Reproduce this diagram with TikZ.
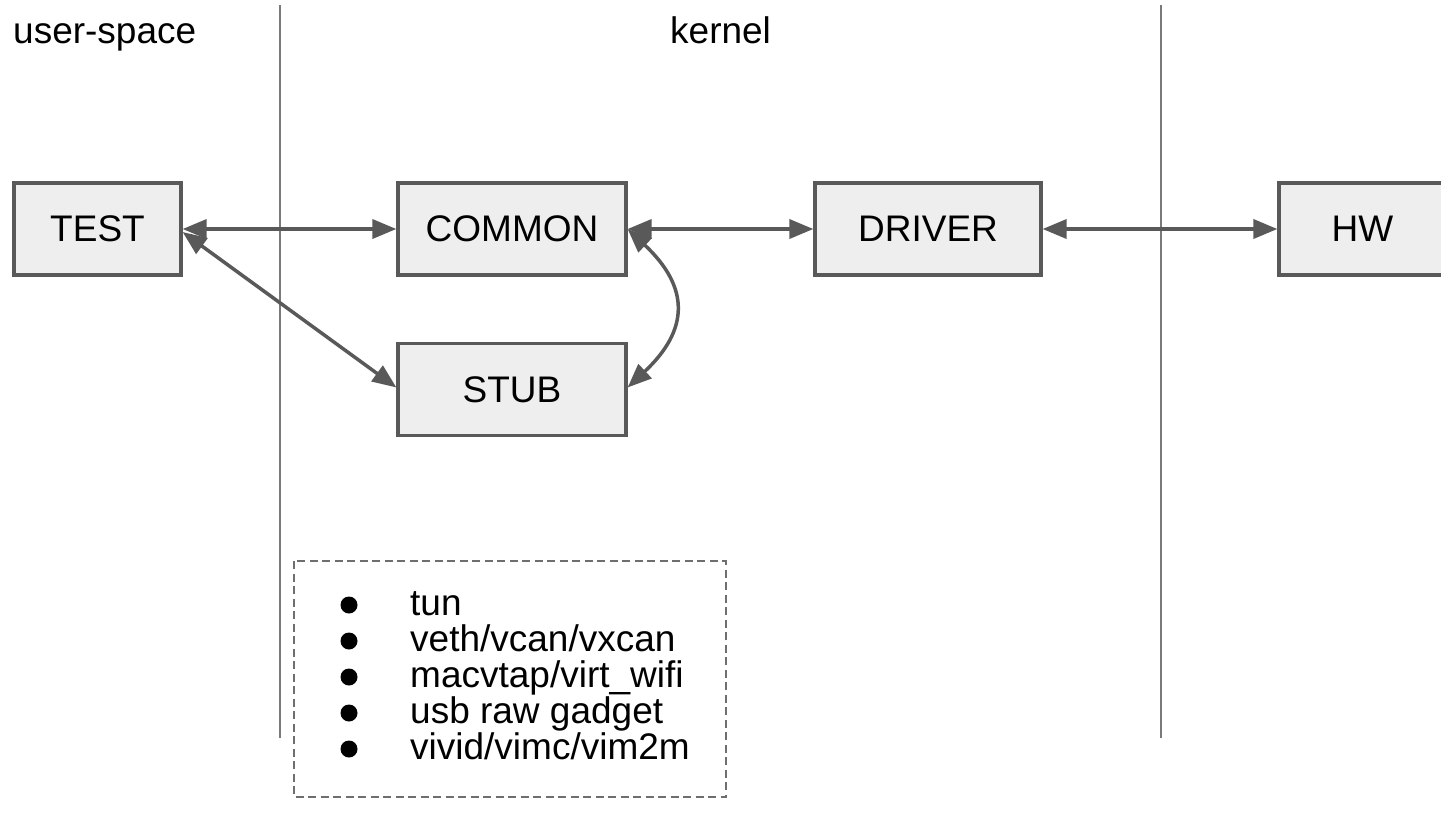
\documentclass[tikz,border=0pt]{standalone}
\usepackage{fontspec}
\setmainfont{Liberation Sans}
\usetikzlibrary{arrows.meta}
\definecolor{boxline}{HTML}{595959}
\definecolor{boxfill}{HTML}{EEEEEE}
\definecolor{sepline}{HTML}{7A7A7A}
\definecolor{dashline}{HTML}{6E6E6E}
\tikzset{
  blk/.style={draw=boxline, fill=boxfill, line width=3.2pt, rectangle, inner sep=0pt,
    minimum height=92pt, font=\fontsize{37}{44}\selectfont},
  lbl/.style={anchor=base west, inner sep=0pt, font=\fontsize{37}{44}\selectfont},
  conn/.style={draw=boxline, line width=3.5pt,
    {Triangle[length=24pt,width=19pt]}-{Triangle[length=24pt,width=19pt]}},
  sep/.style={draw=sepline, line width=2pt},
  dotb/.style={circle, fill=black, inner sep=0pt, minimum size=17pt},
  listbox/.style={draw=dashline, line width=1.5pt, dash pattern=on 8pt off 4.5pt}
}
\begin{document}
\begin{tikzpicture}[x=1pt,y=-1pt]
\useasboundingbox (0,0) rectangle (1441,820);
% separators
\coordinate (s1t) at (280,5);
\coordinate (s1b) at (280,738);
\coordinate (s2t) at (1161,5);
\coordinate (s2b) at (1161,738);
\draw[sep] (s1t) -- (s1b);
\draw[sep] (s2t) -- (s2b);
% labels
\node[lbl] (luser) at (13,43) {user-space};
\node[lbl] (lkernel) at (670,43) {kernel};
% boxes
\node[blk, minimum width=167pt] (test) at (97.5,229) {TEST};
\node[blk, minimum width=228pt] (common) at (512,229) {COMMON};
\node[blk, minimum width=228pt] (stub) at (512,389.5) {STUB};
\node[blk, minimum width=226pt] (driver) at (928,229) {DRIVER};
\node[blk, minimum width=167pt] (hw) at (1362.5,229) {HW};
% connectors
\draw[conn] (test.east) -- (common.west);
\draw[conn] (common.east) -- (driver.west);
\draw[conn] (driver.east) -- (hw.west);
\draw[conn] ([yshift=-3pt]test.east) -- ([yshift=2pt]stub.west);
\draw[conn] (common.east) .. controls +(62,58) and +(62,-58) .. ([yshift=2pt]stub.east);
% list box
\draw[listbox] (294,561) rectangle (726,797);
\node[dotb] (b1) at (349,605) {};
\node[dotb] (b2) at (349,641) {};
\node[dotb] (b3) at (349,677) {};
\node[dotb] (b4) at (349,713) {};
\node[dotb] (b5) at (349,749) {};
\node[lbl] (i1) at (410,615) {tun};
\node[lbl] (i2) at (410,651) {veth/vcan/vxcan};
\node[lbl] (i3) at (410,687) {macvtap/virt\_wifi};
\node[lbl] (i4) at (410,723) {usb raw gadget};
\node[lbl] (i5) at (410,759) {vivid/vimc/vim2m};
\end{tikzpicture}
\end{document}
